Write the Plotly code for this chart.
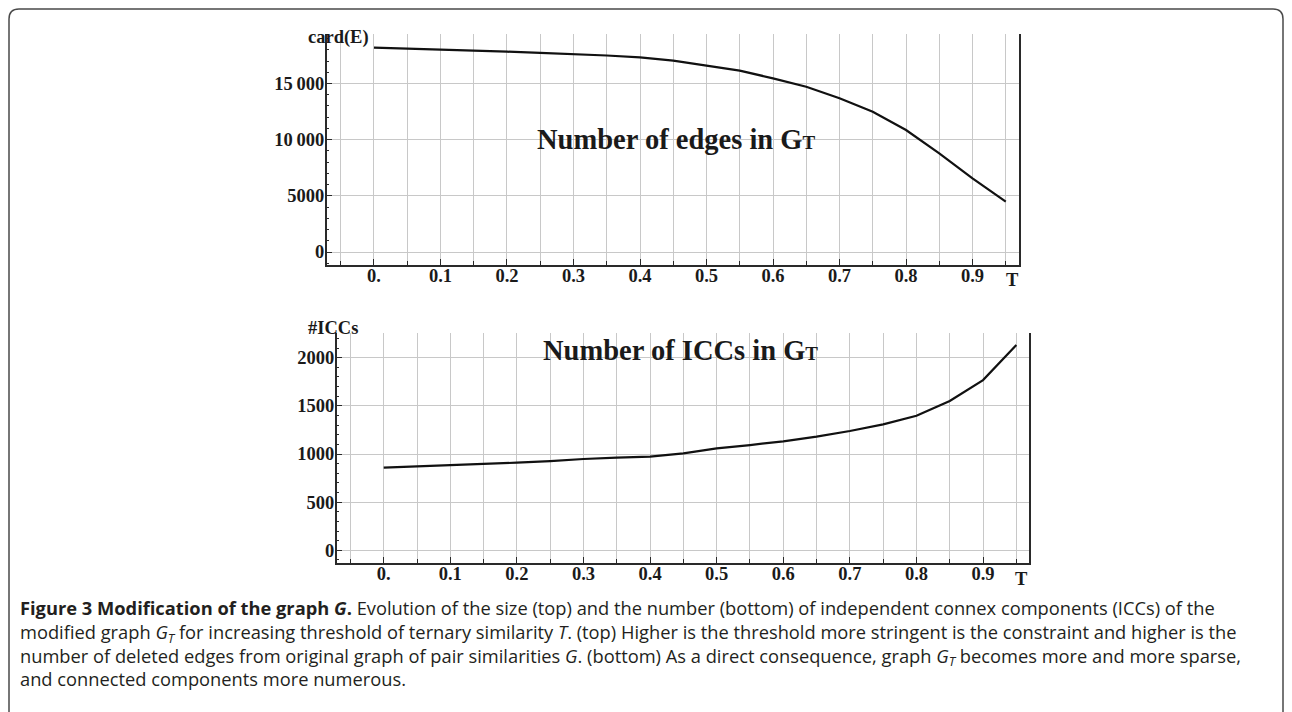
import plotly.graph_objects as go

W, H = 1292, 712

# ---------------- data ----------------
T_values = [0.0, 0.05, 0.1, 0.15, 0.2, 0.25, 0.3, 0.35, 0.4, 0.45,
            0.5, 0.55, 0.6, 0.65, 0.7, 0.75, 0.8, 0.85, 0.9, 0.95]
edges_count = [18190, 18110, 18040, 17940, 17830, 17730, 17625, 17490, 17330, 17030,
               16585, 16140, 15460, 14715, 13680, 12490, 10860, 8785, 6560, 4480]
icc_count = [858, 870, 879, 893, 910, 926, 948, 962, 972, 1007,
             1059, 1093, 1132, 1180, 1239, 1308, 1398, 1550, 1768, 2132]

x_tick_vals = [0.0, 0.1, 0.2, 0.3, 0.4, 0.5, 0.6, 0.7, 0.8, 0.9]
x_tick_text = ["0.", "0.1", "0.2", "0.3", "0.4", "0.5", "0.6", "0.7", "0.8", "0.9"]
top_y_vals = [0, 5000, 10000, 15000]
top_y_text = ["0", "5000", "10\u2009000", "15\u2009000"]
bot_y_vals = [0, 500, 1000, 1500, 2000]
bot_y_text = ["0", "500", "1000", "1500", "2000"]

# ---------------- helpers ----------------
def px(x):
    return x / W

def py(y):
    return 1 - y / H

SERIF = "Liberation Serif"
TICK_FONT = dict(family=SERIF, size=18.5, color="#1a1a1a", weight="bold")
GRID = "#c8c8c8"
AXIS = "#2a2a2a"

fig = go.Figure()
fig.add_trace(go.Scatter(x=T_values, y=edges_count, mode="lines",
                         line=dict(color="#111111", width=2.2),
                         xaxis="x", yaxis="y", showlegend=False, hoverinfo="skip"))
fig.add_trace(go.Scatter(x=T_values, y=icc_count, mode="lines",
                         line=dict(color="#111111", width=2.2),
                         xaxis="x2", yaxis="y2", showlegend=False, hoverinfo="skip"))

def xaxis_cfg(domain, rng, anchor):
    return dict(domain=domain, range=rng, anchor=anchor,
                tickmode="array", tickvals=x_tick_vals, ticktext=x_tick_text,
                ticks="inside", ticklen=6, tickcolor=AXIS, tickwidth=1,
                showgrid=True, gridcolor=GRID, gridwidth=1,
                minor=dict(tickmode="linear", tick0=0.05, dtick=0.1, ticks="inside",
                           ticklen=4, tickcolor=AXIS, showgrid=True, gridcolor=GRID,
                           gridwidth=1),
                showline=True, linecolor=AXIS, linewidth=1.5, mirror=False,
                zeroline=False, tickfont=TICK_FONT, fixedrange=True,
                ticklabelstandoff=-7)

def yaxis_cfg(domain, rng, anchor, vals, text, minor_dtick):
    return dict(domain=domain, range=rng, anchor=anchor,
                tickmode="array", tickvals=vals, ticktext=text,
                ticks="inside", ticklen=6, tickcolor=AXIS, tickwidth=1,
                showgrid=True, gridcolor=GRID, gridwidth=1,
                minor=dict(tickmode="linear", tick0=0, dtick=minor_dtick, ticks="inside",
                           ticklen=3, tickcolor=AXIS, showgrid=False),
                showline=True, linecolor=AXIS, linewidth=1.5, mirror=True,
                zeroline=False, tickfont=TICK_FONT, fixedrange=True,
                ticklabelstandoff=-3)

fig.update_layout(
    width=W, height=H,
    margin=dict(l=0, r=0, t=0, b=0),
    paper_bgcolor="white", plot_bgcolor="white",
    xaxis=xaxis_cfg([px(326.7), px(1019)], [-0.0711, 0.9699], "y"),
    yaxis=yaxis_cfg([py(265), py(34)], [-1157, 19405], "x", top_y_vals, top_y_text, 1000),
    xaxis2=xaxis_cfg([px(336.7), px(1029)], [-0.0706, 0.969], "y2"),
    yaxis2=yaxis_cfg([py(563), py(332.5)], [-132, 2262], "x2", bot_y_vals, bot_y_text, 100),
)

ann = []
LABEL_FONT = dict(family=SERIF, size=18.5, color="#1a1a1a", weight="bold")
ann.append(dict(x=px(306), y=py(38), xref="paper", yref="paper", text="card(E)",
                showarrow=False, xanchor="left", yanchor="middle", font=LABEL_FONT))
ann.append(dict(x=px(306), y=py(327.7), xref="paper", yref="paper", text="#ICCs",
                showarrow=False, xanchor="left", yanchor="middle", font=LABEL_FONT))
ann.append(dict(x=px(1012), y=py(280), xref="paper", yref="paper", text="T",
                showarrow=False, xanchor="center", yanchor="middle", font=LABEL_FONT))
ann.append(dict(x=px(1021), y=py(579), xref="paper", yref="paper", text="T",
                showarrow=False, xanchor="center", yanchor="middle", font=LABEL_FONT))

TITLE_FONT = dict(family=SERIF, size=28.5, color="#1a1a1a", weight="bold")
small_T = '<span style="font-size:19px">T</span>'
ann.append(dict(x=px(535), y=py(139.4), xref="paper", yref="paper",
                text="Number of edges in G" + small_T,
                showarrow=False, xanchor="left", yanchor="middle", font=TITLE_FONT))
ann.append(dict(x=px(540.5), y=py(350.4), xref="paper", yref="paper",
                text="Number of ICCs in G" + small_T,
                showarrow=False, xanchor="left", yanchor="middle", font=TITLE_FONT))

CAP_FONT = dict(family="Open Sans", size=18.3, color="#231f20")
caption_lines = [
    "<b>Figure 3 Modification of the graph <i>G</i>.</b> Evolution of the size (top) and the number (bottom) of independent connex components (ICCs) of the",
    "modified graph <i>G<sub>T</sub></i> for increasing threshold of ternary similarity <i>T</i>. (top) Higher is the threshold more stringent is the constraint and higher is the",
    "number of deleted edges from original graph of pair similarities <i>G</i>. (bottom) As a direct consequence, graph <i>G<sub>T</sub></i> becomes more and more sparse,",
    "and connected components more numerous.",
]
ann.append(dict(x=px(18), y=py(643), xref="paper", yref="paper",
                text="<br>".join(caption_lines), align="left",
                showarrow=False, xanchor="left", yanchor="middle", font=CAP_FONT))

fig.update_layout(annotations=ann)

# rounded frame around the figure
x0, x1, y0, y1, r = 9, 1283, 9, 740, 10
path = (f"M {px(x0)},{py(y1)} L {px(x0)},{py(y0 + r)} "
        f"Q {px(x0)},{py(y0)} {px(x0 + r)},{py(y0)} "
        f"L {px(x1 - r)},{py(y0)} Q {px(x1)},{py(y0)} {px(x1)},{py(y0 + r)} "
        f"L {px(x1)},{py(y1)}")
fig.add_shape(type="path", path=path, xref="paper", yref="paper",
              line=dict(color="#4a4a4a", width=1.5), layer="above")

fig.write_html("out.html")
